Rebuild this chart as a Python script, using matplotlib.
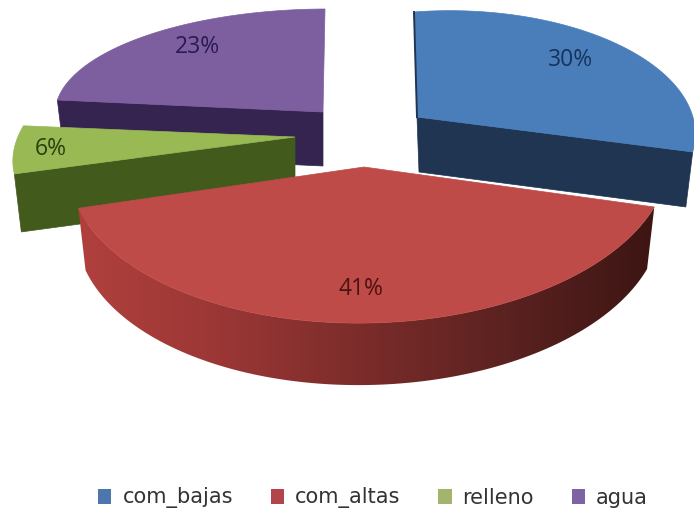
#!/usr/bin/env python3
'''
plot.py

exploded 3D style pie chart of waste categories, drawn with polygons
'''

import numpy as np
import matplotlib.pyplot as plt
from matplotlib.colors import LinearSegmentedColormap
from matplotlib.patches import Patch, Polygon

categories = ['com_bajas', 'com_altas', 'relleno', 'agua']
values = [30, 41, 6, 23]

top_colors = ['#4a7ebb', '#be4b48', '#98b954', '#7d5fa0']
side_colors = ['#1f3552', '#8a302e', '#435a1d', '#35244f']
label_colors = ['#16335c', '#4a1210', '#2c3f10', '#2a1a50']
legend_colors = ['#4f76ac', '#b2454b', '#a3b56c', '#7f62a3']

# apex, arc centre, radii and skew terms of each slice, in pixels
layout = [
    dict(apex=(417, 117), c=(454, 132), r=(238, 120), sk=-40, t=-18, depth=55),
    dict(apex=(364, 167), c=(369, 163), r=(300, 160), sk=0, t=-5.7, depth=62),
    dict(apex=(295, 137), c=(295, 137), r=(279, 129), sk=42, t=-5, depth=58),
    dict(apex=(323, 112), c=(323, 112), r=(268, 103), sk=2, t=-0.9, depth=54),
]
label_pos = [(571, 60), (361, 289), (51, 149), (197, 47)]
draw_order = [3, 2, 0, 1]
BASE_SCALE = 0.975


def arc_points(lay, start, stop):
    # outer edge of a slice, angles clockwise from 12 o'clock
    th = np.radians(np.linspace(start, stop, 120))
    x = lay['c'][0] + lay['r'][0] * np.sin(th) + lay['sk'] * np.cos(th)
    y = lay['c'][1] - lay['r'][1] * np.cos(th) + lay['t'] * np.sin(th)
    return np.column_stack([x, y])


def drop(points, lay):
    # same outline moved down to the bottom of the slab
    out = points.astype(float).copy()
    out[:, 0] = lay['apex'][0] + (out[:, 0] - lay['apex'][0]) * BASE_SCALE
    out[:, 1] += lay['depth']
    return out


def main():

    fig = plt.figure(figsize=(6.94, 5.12), dpi=100)
    ax = fig.add_axes([0, 0, 1, 1])
    ax.set_xlim(0, 694)
    ax.set_ylim(512, 0)
    ax.axis('off')

    shares = np.array(values) / sum(values) * 360
    edges = np.concatenate([[0], np.cumsum(shares)])

    red_side = LinearSegmentedColormap.from_list(
        'red_side', ['#b0403d', '#9a3735', '#7a2c2a', '#5a2220', '#3d1513'])

    for rank, i in enumerate(draw_order):
        lay = layout[i]
        z = 2 * rank + 1
        arc = arc_points(lay, edges[i], edges[i + 1])
        apex = np.array([lay['apex']], dtype=float)

        if i == 1:
            # front rim of the big slice, shaded left to right
            rim = np.vstack([arc, drop(arc, lay)[::-1]])
            patch = Polygon(rim, closed=True, fc='none', ec='none', zorder=z)
            ax.add_patch(patch)
            grad = np.linspace(0, 1, 256).reshape(1, -1)
            img = ax.imshow(grad, cmap=red_side, aspect='auto', zorder=z,
                            extent=[rim[:, 0].min(), rim[:, 0].max(), 400, 150])
            img.set_clip_path(patch)
            ax.set_xlim(0, 694)
            ax.set_ylim(512, 0)
        else:
            # cut face that looks towards the viewer
            if i == 0:
                edge = arc[-1:]
            else:
                edge = arc[:1]
            face = np.vstack([apex, edge, drop(edge, lay),
                              drop(apex, lay) + [2 if i == 0 else 0, 0]])
            ax.add_patch(Polygon(face, closed=True, fc=side_colors[i],
                                 ec=side_colors[i], lw=0.5, zorder=z))

        ax.add_patch(Polygon(np.vstack([apex, arc]), closed=True,
                             fc=top_colors[i], ec=top_colors[i], lw=0.5,
                             zorder=z + 1))

    # dark sliver on the back cut of the first slice
    back = arc_points(layout[0], 0, 0.01)
    ax.plot([back[0, 0], layout[0]['apex'][0]], [back[0, 1], layout[0]['apex'][1]],
            color=side_colors[0], lw=1.4, zorder=6)

    for i, val in enumerate(values):
        ax.text(label_pos[i][0], label_pos[i][1], '{0}%'.format(val),
                color=label_colors[i], fontsize=16.5, family='Open Sans',
                ha='center', va='center', zorder=30)

    handles = [Patch(fc=c, ec='none') for c in legend_colors]
    ax.legend(handles, categories, loc='center', bbox_to_anchor=(373 / 694, 1 - 498 / 512),
              ncol=4, frameon=False, handlelength=0.65, handleheight=0.7,
              handletextpad=0.53, columnspacing=1.8, borderpad=0,
              prop={'family': 'DejaVu Sans', 'size': 15}, labelcolor='#333333')

    fig.savefig('out.png', dpi=100, facecolor='white')


if __name__ == '__main__':
    main()
